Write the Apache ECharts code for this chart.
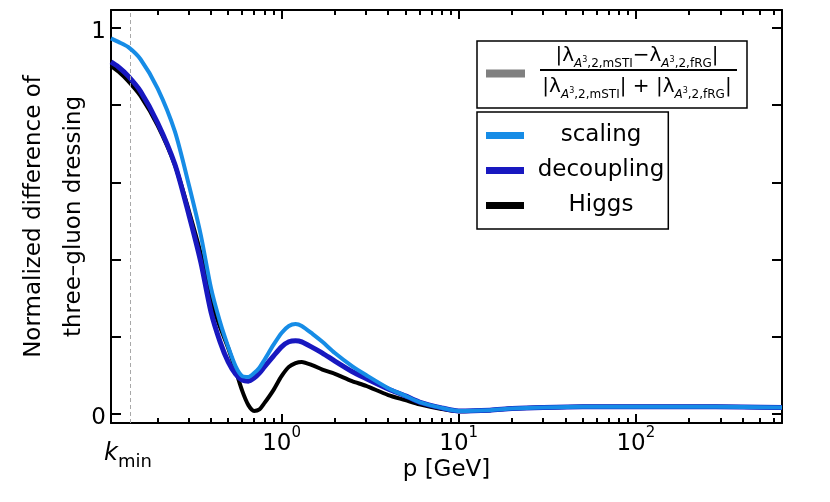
<!DOCTYPE html>
<html>
<head>
<meta charset="utf-8">
<script src="https://cdn.jsdelivr.net/npm/echarts@6/dist/echarts.min.js"></script>
<style>
  html, body { margin: 0; padding: 0; background: #fff; }
  #main { width: 830px; height: 502px; }
</style>
</head>
<body>
<div id="main"></div>
<script>
  // momentum p [GeV]
  const P = [0.109, 0.12, 0.136, 0.16, 0.2, 0.25, 0.3, 0.35, 0.4, 0.45, 0.5, 0.55, 0.6, 0.65, 0.7, 0.75, 0.8, 0.9,
    1.0, 1.1, 1.2, 1.3, 1.5, 1.7, 2, 2.5, 3, 4, 5, 6, 8, 10, 15, 20, 30, 50, 100, 200, 400, 668]
  const SCALING = [0.973, 0.964, 0.951, 0.919, 0.843, 0.732, 0.593, 0.464, 0.326, 0.238, 0.174, 0.124, 0.098, 0.096,
    0.106, 0.120, 0.140, 0.179, 0.210, 0.228, 0.233, 0.228, 0.207, 0.187, 0.158, 0.124, 0.101, 0.067, 0.047, 0.031,
    0.016, 0.008, 0.010, 0.014, 0.017, 0.019, 0.019, 0.019, 0.018, 0.017]
  const DECOUPLING = [0.912, 0.899, 0.876, 0.836, 0.754, 0.647, 0.516, 0.394, 0.264, 0.187, 0.135, 0.104, 0.088, 0.085,
    0.093, 0.106, 0.122, 0.150, 0.174, 0.187, 0.190, 0.187, 0.172, 0.158, 0.137, 0.110, 0.092, 0.065, 0.047, 0.031,
    0.016, 0.008, 0.010, 0.014, 0.017, 0.019, 0.019, 0.019, 0.018, 0.017]
  const HIGGS = [0.902, 0.887, 0.863, 0.824, 0.747, 0.645, 0.526, 0.415, 0.295, 0.225, 0.171, 0.114, 0.060, 0.023,
    0.008, 0.012, 0.028, 0.062, 0.098, 0.122, 0.132, 0.135, 0.126, 0.115, 0.104, 0.085, 0.073, 0.049, 0.036, 0.025,
    0.013, 0.007, 0.010, 0.014, 0.017, 0.019, 0.019, 0.019, 0.018, 0.017]

  const KMIN = 0.136
  const X_MIN = 0.109
  const X_MAX = 668
  const X_MAJOR = [1, 10, 100]
  const X_MINOR = [0.2, 0.3, 0.4, 0.5, 0.6, 0.7, 0.8, 0.9, 2, 3, 4, 5, 6, 7, 8, 9,
    20, 30, 40, 50, 60, 70, 80, 90, 200, 300, 400, 500, 600]
  const X_LABELS = [KMIN, 1, 10, 100]
  const Y_MIN = -0.0233
  const Y_MAX = 1.0466
  const Y_TICKS = [0, 0.2, 0.4, 0.6, 0.8, 1]
  const Y_LABELS = [0, 1]

  const FONT = 'DejaVu Sans'
  const toPairs = (vals) => P.map((p, i) => [p, vals[i]])

  function xAxisDef(position, ticks, len, main) {
    return {
      type: 'log',
      logBase: 10,
      position: position,
      min: X_MIN,
      max: X_MAX,
      splitLine: { show: false },
      axisLine: { show: main, onZero: false, lineStyle: { color: '#000', width: 2 } },
      axisTick: { show: true, inside: true, length: len, customValues: ticks, lineStyle: { color: '#000', width: 2 } },
      axisLabel: { show: false }
    }
  }

  // rich tokens are top aligned, padding[0] moves each piece down
  const xBottom = xAxisDef('bottom', X_MAJOR, 9, true)
  xBottom.axisLabel = {
    show: true,
    customValues: X_LABELS,
    margin: 3,
    formatter: (v) => {
      if (Math.abs(v - KMIN) < 1e-6) return '{k|k}{m|min}'
      return '{b|10}{s|' + Math.round(Math.log10(v)) + '}'
    },
    rich: {
      k: { fontFamily: FONT, fontSize: 24, fontStyle: 'italic', verticalAlign: 'top', padding: [16, 0, 0, 0], color: '#000' },
      m: { fontFamily: FONT, fontSize: 18, verticalAlign: 'top', padding: [27, 0, 0, 0], color: '#000' },
      b: { fontFamily: FONT, fontSize: 23, verticalAlign: 'top', padding: [7, 0, 0, 0], color: '#000' },
      s: { fontFamily: FONT, fontSize: 15, verticalAlign: 'top', padding: [0, 0, 0, 0], color: '#000' }
    }
  }
  xBottom.name = 'p [GeV]'
  xBottom.nameLocation = 'middle'
  xBottom.nameGap = 36
  xBottom.nameMoveOverlap = false
  xBottom.nameTextStyle = { fontFamily: FONT, fontSize: 23, color: '#000' }

  function yAxisDef(position, main) {
    return {
      type: 'value',
      position: position,
      min: Y_MIN,
      max: Y_MAX,
      splitLine: { show: false },
      axisLine: { show: true, onZero: false, lineStyle: { color: '#000', width: 2 } },
      axisTick: { show: true, inside: true, length: 10, customValues: Y_TICKS, lineStyle: { color: '#000', width: 2 } },
      axisLabel: main
        ? {
            show: true,
            customValues: Y_LABELS,
            margin: 5,
            formatter: '{n|{value}}',
            rich: { n: { fontFamily: FONT, fontSize: 23, lineHeight: 23, color: '#000', padding: [8, 0, 0, 0] } }
          }
        : { show: false }
    }
  }

  const yLeft = yAxisDef('left', true)
  yLeft.name = 'Normalized difference of\nthree\u2013gluon dressing'
  yLeft.nameLocation = 'middle'
  yLeft.nameRotate = 90
  yLeft.nameGap = 17
  yLeft.nameMoveOverlap = false
  yLeft.nameTextStyle = { fontFamily: FONT, fontSize: 23, lineHeight: 40, color: '#000' }

  const lineSeries = (name, vals, color, width, z) => ({
    name: name,
    type: 'line',
    xAxisIndex: 0,
    yAxisIndex: 0,
    data: toPairs(vals),
    smooth: 0.25,
    symbol: 'none',
    z: z,
    itemStyle: { color: color },
    lineStyle: { color: color, width: width }
  })

  const higgs = lineSeries('Higgs', HIGGS, '#000000', 4, 3)
  higgs.markLine = {
    silent: true,
    symbol: ['none', 'none'],
    label: { show: false },
    lineStyle: { color: '#a8a8a8', type: [4, 3], width: 1 },
    data: [{ xAxis: KMIN }]
  }

  const fracRich = {
    v: { fontFamily: FONT, fontSize: 20, lineHeight: 20, verticalAlign: 'top', color: '#000' },
    si: { fontFamily: FONT, fontSize: 12, lineHeight: 12, fontStyle: 'italic', verticalAlign: 'top', padding: [12, 0, 0, 0], color: '#000' },
    sp: { fontFamily: FONT, fontSize: 8, lineHeight: 8, verticalAlign: 'top', padding: [10, 0, 0, 0], color: '#000' },
    s: { fontFamily: FONT, fontSize: 12, lineHeight: 12, verticalAlign: 'top', padding: [12, 0, 0, 0], color: '#000' }
  }

  const chart = echarts.init(document.getElementById('main'), null, { renderer: 'canvas' })
  chart.setOption({
    animation: false,
    backgroundColor: '#fff',
    grid: { left: 111, right: 48, top: 10, bottom: 79, outerBoundsMode: 'none', containLabel: false },
    xAxis: [
      xBottom,
      xAxisDef('bottom', X_MINOR, 5, false),
      xAxisDef('top', X_MAJOR, 9, true),
      xAxisDef('top', X_MINOR, 5, false)
    ],
    yAxis: [yLeft, yAxisDef('right', false)],
    legend: {
      orient: 'vertical',
      left: 477,
      top: 112,
      padding: [12, 4, 12, 9],
      itemGap: 12,
      itemWidth: 38,
      itemHeight: 7,
      icon: 'rect',
      borderColor: '#000',
      borderWidth: 1.5,
      selectedMode: false,
      data: ['scaling', 'decoupling', 'Higgs'],
      formatter: '{a|{name}}',
      textStyle: {
        rich: { a: { fontFamily: FONT, fontSize: 23, width: 144, align: 'center', color: '#000' } }
      }
    },
    graphic: [
      { type: 'rect', shape: { x: 477, y: 41, width: 270, height: 67 }, style: { fill: 'none', stroke: '#000', lineWidth: 1.5 } },
      { type: 'rect', shape: { x: 486, y: 69.5, width: 39, height: 8 }, style: { fill: '#808080' } },
      { type: 'line', shape: { x1: 540, y1: 70, x2: 737, y2: 70 }, style: { stroke: '#000', lineWidth: 2 } },
      {
        type: 'text', x: 637, y: 56,
        style: {
          text: '{v||λ}{si|A}{sp|3}{s|,2,mSTI}{v|−λ}{si|A}{sp|3}{s|,2,fRG}{v||}',
          rich: fracRich, align: 'center', verticalAlign: 'middle'
        }
      },
      {
        type: 'text', x: 637, y: 87,
        style: {
          text: '{v||λ}{si|A}{sp|3}{s|,2,mSTI}{v|| + |λ}{si|A}{sp|3}{s|,2,fRG}{v||}',
          rich: fracRich, align: 'center', verticalAlign: 'middle'
        }
      }
    ],
    series: [
      higgs,
      lineSeries('decoupling', DECOUPLING, '#1818c0', 5, 4),
      lineSeries('scaling', SCALING, '#168ce6', 4, 5)
    ]
  })
</script>
</body>
</html>
